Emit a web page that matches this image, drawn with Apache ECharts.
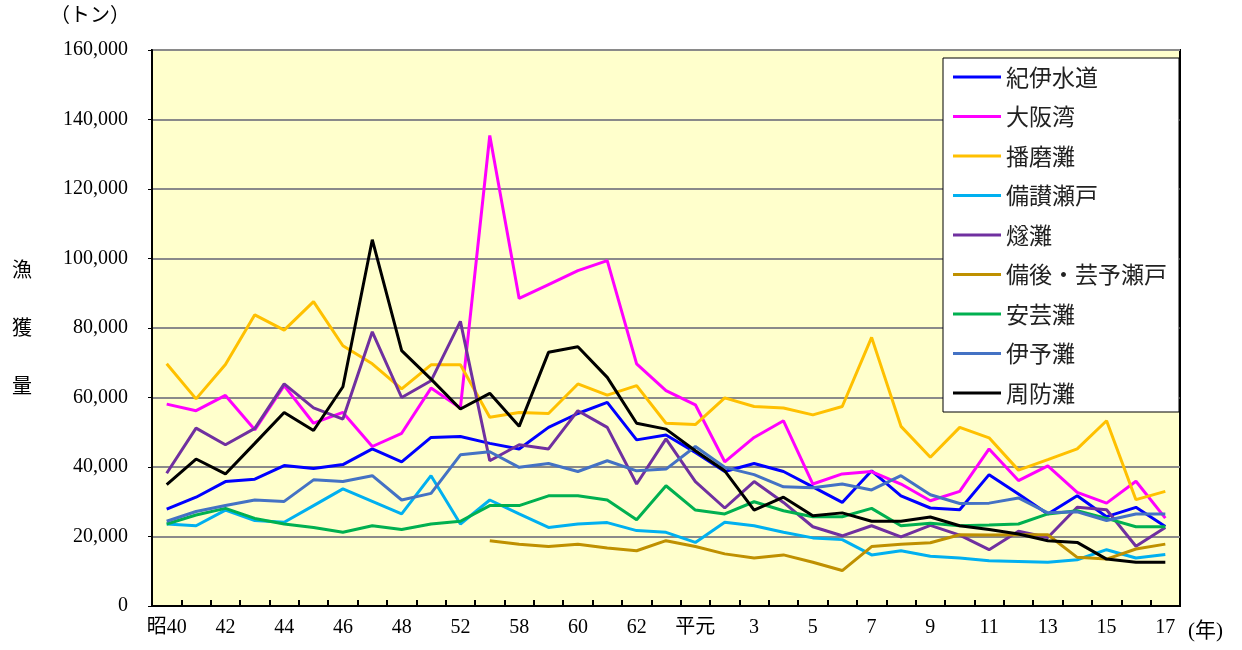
<!DOCTYPE html>
<html>
<head>
<meta charset="utf-8">
<script src="https://cdn.jsdelivr.net/npm/echarts@6/dist/echarts.min.js"></script>
<style>html,body{margin:0;padding:0;background:#fff;}#c{width:1242px;height:650px;}</style>
</head>
<body>
<div id="c"></div>
<script>
const categories = ['昭40','41','42','43','44','45','46','47','48','50','52','55','58','59','60','61','62','63','平元','2','3','4','5','6','7','8','9','10','11','12','13','14','15','16','17'];
const yTicks = [0, 20000, 40000, 60000, 80000, 100000, 120000, 140000, 160000];

const kii    = [27900,31300,35800,36500,40400,39600,40700,45200,41500,48500,48800,46800,45200,51400,55400,58600,47800,49200,44200,38700,41000,38700,34300,29800,38900,31700,28200,27700,37800,32200,26500,31700,25700,28400,22900];
const osaka  = [58100,56200,60600,50700,63400,52600,55700,45900,49700,62700,57000,135400,88500,92500,96500,99400,69700,62000,57900,41500,48500,53300,35100,38000,38700,35100,30300,33000,45200,36100,40300,32700,29600,35900,25300];
const harima = [69700,59600,69500,83800,79400,87600,74900,69700,62500,69400,69400,54300,55700,55400,63900,60700,63400,52600,52200,59900,57400,57000,55000,57400,77300,51700,42800,51400,48400,39100,42100,45200,53300,30600,33000];
const bisan  = [23600,23100,27600,24600,24100,28900,33700,30100,26500,37500,23600,30500,26500,22600,23600,24000,21700,21200,18300,24100,23100,21200,19600,19100,14700,15900,14300,13800,13000,12800,12600,13300,16200,13800,14800];
const hiuchi = [38200,51200,46400,51100,63900,57000,53800,78900,60000,64800,81900,41800,46400,45200,56200,51400,35100,48100,35800,28200,35800,29800,22800,20200,23100,19900,23200,20400,16200,21500,19700,28400,27700,17200,22600];
const bingo  = [null,null,null,null,null,null,null,null,null,null,null,18800,17800,17100,17800,16700,15900,18800,17100,15000,13800,14700,12600,10200,17100,17800,18200,20500,20400,20500,20500,14000,13500,16400,17800];
const aki    = [23600,26200,28100,25200,23600,22600,21200,23100,22000,23600,24400,28900,28900,31700,31700,30500,24800,34600,27600,26500,30000,27400,25700,25700,28100,23100,23800,23100,23300,23600,26500,27400,25200,22800,22800];
const iyo    = [24400,27200,28900,30500,30100,36300,35800,37500,30500,32400,43500,44400,39900,41000,38700,41800,38900,39400,45900,39900,37800,34300,34000,35100,33400,37500,32000,29500,29600,31100,26800,27100,24600,26500,26500];
const suo    = [34900,42300,38000,46800,55700,50500,63100,105400,73500,65300,56700,61200,51700,73000,74600,65800,52600,50900,44700,38900,27600,31300,26000,26800,24400,24400,25600,23100,22000,20700,18800,18300,13500,12600,12600];

const seriesNames = ['紀伊水道','大阪湾','播磨灘','備讃瀬戸','燧灘','備後・芸予瀬戸','安芸灘','伊予灘','周防灘'];
const seriesData = [kii, osaka, harima, bisan, hiuchi, bingo, aki, iyo, suo];
const colors = ['#0000FF','#FF00FF','#FFC000','#00B0F0','#7030A0','#BF9000','#00B050','#4472C4','#000000'];

const serif = "'Liberation Serif', 'Noto Sans CJK JP', serif";
const cjk = "'Noto Sans CJK JP', sans-serif";

const chart = echarts.init(document.getElementById('c'), null, {renderer: 'canvas'});
chart.setOption({
  animation: false,
  backgroundColor: '#ffffff',
  grid: {
    left: 152, right: 62, top: 50, bottom: 44,
    show: true, backgroundColor: '#FFFFCC', borderColor: '#000', borderWidth: 2
  },
  legend: {
    orient: 'vertical',
    left: 943, top: 58,
    padding: [7, 12, 7, 10],
    backgroundColor: '#ffffff',
    borderColor: '#000', borderWidth: 1,
    icon: 'rect',
    itemWidth: 48, itemHeight: 3, itemGap: 15.5, itemTextGap: 6,
    textStyle: {fontFamily: cjk, fontSize: 23, color: '#222', lineHeight: 24},
    data: seriesNames
  },
  xAxis: {
    type: 'category',
    data: categories,
    boundaryGap: true,
    axisLine: {show: true, lineStyle: {color: '#000', width: 2}},
    axisTick: {show: true, inside: true, length: 6, interval: 0, lineStyle: {color: '#000', width: 2}},
    axisLabel: {interval: 1, margin: 12, fontFamily: serif, fontSize: 20, color: '#000'},
    splitLine: {show: false}
  },
  yAxis: {
    type: 'value',
    min: 0, max: 160000, interval: 20000,
    axisLine: {show: true, lineStyle: {color: '#000', width: 2}},
    axisTick: {show: true, length: 4, lineStyle: {color: '#000', width: 1}},
    axisLabel: {
      margin: 24, fontFamily: serif, fontSize: 20, color: '#000',
      formatter: v => String(v).replace(/\B(?=(\d{3})+(?!\d))/g, ',')
    },
    splitLine: {show: true, lineStyle: {color: '#8a8a8a', width: 2}}
  },
  graphic: [
    {type: 'text', left: 50, top: 4, style: {text: '（トン）', fontFamily: cjk, fontSize: 20, fill: '#000'}},
    {type: 'text', x: 22, y: 240, style: {text: '漁\n獲\n量', fontFamily: cjk, fontSize: 20, fill: '#000', align: 'center', verticalAlign: 'top', lineHeight: 58}},
    {type: 'text', x: 1188, y: 621, style: {text: '(年)', fontFamily: serif, fontSize: 21, fill: '#000'}}
  ],
  series: seriesNames.map((name, i) => ({
    name: name,
    type: 'line',
    data: seriesData[i],
    symbol: 'none',
    connectNulls: false,
    lineStyle: {color: colors[i], width: 3},
    itemStyle: {color: colors[i]}
  }))
});
</script>
</body>
</html>
